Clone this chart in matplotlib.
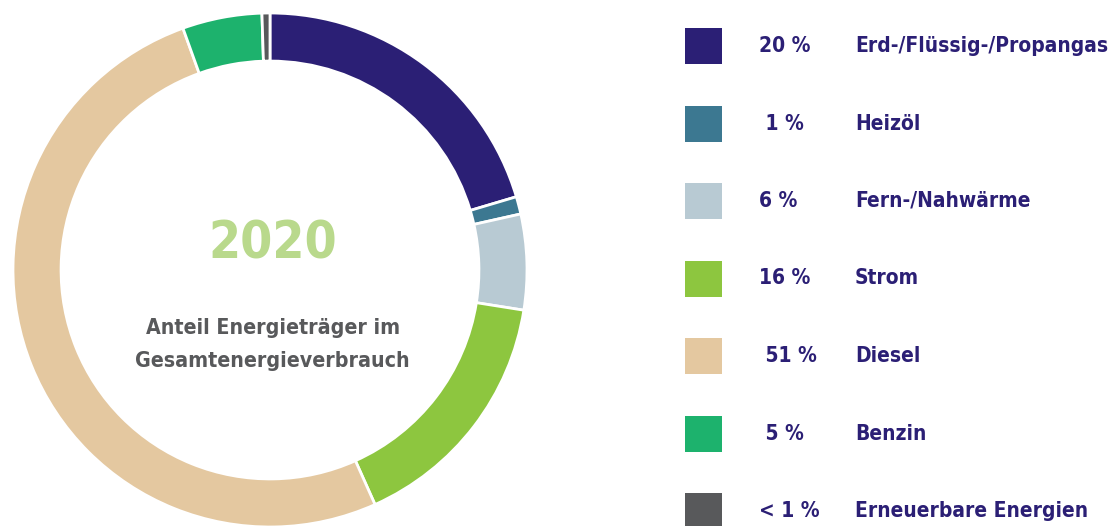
import matplotlib
matplotlib.use("Agg")
import matplotlib.pyplot as plt

categories = ["Erd-/Flüssig-/Propangas", "Heizöl", "Fern-/Nahwärme", "Strom",
              "Diesel", "Benzin", "Erneuerbare Energien"]
values = [20.4, 1.1, 6.0, 15.8, 51.2, 5.0, 0.5]
pct_labels = ["20 %", " 1 %", "6 %", "16 %", " 51 %", " 5 %", "< 1 %"]
colors = ["#2B1F75", "#3C7891", "#B8CAD3", "#8DC63F", "#E4C8A0", "#1DB26D", "#58595B"]
year = "2020"
subtitle = "Anteil Energieträger im\nGesamtenergieverbrauch"

W, H = 1117, 526
fig = plt.figure(figsize=(W / 100, H / 100), dpi=100)
FONT = ["DejaVu Sans"]
ST = "condensed"

cx, cy, R = 270, 270, 257
ax = fig.add_axes([(cx - R) / W, (H - cy - R) / H, 2 * R / W, 2 * R / H])
ax.pie(values, colors=colors, startangle=90, counterclock=False, radius=1,
       wedgeprops=dict(width=0.187, edgecolor="white", linewidth=2))
ax.set_xlim(-1, 1)
ax.set_ylim(-1, 1)
ax.set_aspect("equal")
ax.axis("off")

ax.text(0.01, 0.10, year, ha="center", va="center", fontsize=37, fontweight="bold",
        color="#B9D98C", family=FONT, fontstretch=ST)
ax.text(0.01, -0.29, subtitle, ha="center", va="center", fontsize=15.3, fontweight="bold",
        color="#58595B", family=FONT, fontstretch=ST, linespacing=1.8)

# legend
lax = fig.add_axes([0, 0, 1, 1])
lax.set_xlim(0, W)
lax.set_ylim(H, 0)
lax.axis("off")
y0, dy = 46, 77.5
for i, (cat, pct, col) in enumerate(zip(categories, pct_labels, colors)):
    y = y0 + i * dy
    lax.add_patch(plt.Rectangle((685, y - 18), 37, 36, color=col, lw=0))
    lax.text(759, y, pct, ha="left", va="center", fontsize=15, fontweight="bold",
             color="#2B1F75", family=FONT, fontstretch=ST)
    lax.text(855, y, cat, ha="left", va="center", fontsize=15, fontweight="bold",
             color="#2B1F75", family=FONT, fontstretch=ST)

fig.savefig("out.png", dpi=100)
